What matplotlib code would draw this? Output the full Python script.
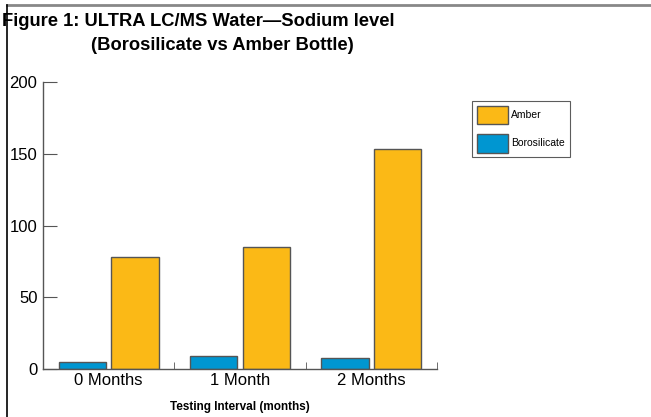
import matplotlib
matplotlib.use("Agg")
import matplotlib.pyplot as plt
from matplotlib import font_manager
from matplotlib.lines import Line2D
import numpy as np

# fonts: narrow sans if available
names = {f.name for f in font_manager.fontManager.ttflist}
NARROW = "Liberation Sans Narrow" if "Liberation Sans Narrow" in names else "Liberation Sans"
plt.rcParams["font.family"] = [NARROW, "DejaVu Sans"]

# data
categories = ["0 Months", "1 Month", "2 Months"]
borosilicate = [5, 9, 8]
amber = [78, 85, 153]
y_ticks = [0, 50, 100, 150, 200]

AMBER = "#FBB916"
BLUE = "#0096D1"
EDGE = "#555555"

fig = plt.figure(figsize=(6.51, 4.17), dpi=100)
ax = fig.add_axes([43 / 651, 1 - 369 / 417, (437 - 43) / 651, (369 - 82) / 417])

x = np.arange(len(categories))
w = 0.36
ax.bar(x - 0.2, borosilicate, w, color=BLUE, edgecolor=EDGE, linewidth=1.0, label="Borosilicate")
ax.bar(x + 0.2, amber, w, color=AMBER, edgecolor=EDGE, linewidth=1.0, label="Amber")

ax.set_xlim(-0.5, 2.5)
ax.set_ylim(0, 200)
ax.set_yticks(y_ticks)
ax.set_yticklabels([str(v) for v in y_ticks], fontsize=12)
ax.set_xticks(x)
ax.set_xticklabels(categories, fontsize=12)
ax.set_xticks([0.5, 1.5, 2.5], minor=True)
ax.tick_params(axis="x", which="major", length=0, pad=3)
ax.tick_params(axis="x", which="minor", direction="in", length=5, color=EDGE)
ax.tick_params(axis="y", direction="in", length=10, color=EDGE, pad=4)
for s in ("top", "right"):
    ax.spines[s].set_visible(False)
for s in ("left", "bottom"):
    ax.spines[s].set_color(EDGE)
    ax.spines[s].set_linewidth(1.0)
ax.set_xlabel("Testing Interval (months)", fontsize=8.5, fontweight="bold", labelpad=9)

handles, labels = ax.get_legend_handles_labels()
leg = fig.legend(handles[::-1], labels[::-1], loc="upper left",
                 bbox_to_anchor=(472 / 651, 1 - 101 / 417), borderaxespad=0,
                 fontsize=7.5, frameon=True, fancybox=False, edgecolor="#333333",
                 handlelength=3.0, handleheight=2.4, borderpad=0.45,
                 labelspacing=0.9, handletextpad=0.3)
leg.get_frame().set_linewidth(0.8)

# title
fig.text(2 / 651, 1 - 22 / 417, "Figure 1: ULTRA LC/MS Water\u2014Sodium level",
         fontsize=13.2, fontweight="bold", ha="left", va="center")
fig.text(222 / 651, 1 - 45 / 417, "(Borosilicate vs Amber Bottle)",
         fontsize=13.2, fontweight="bold", ha="center", va="center")

# page border
fig.add_artist(Line2D([7 / 651, 1], [1 - 5 / 417, 1 - 5 / 417], transform=fig.transFigure,
                      color="#888888", linewidth=2))
fig.add_artist(Line2D([7 / 651, 7 / 651], [0, 1 - 5 / 417], transform=fig.transFigure,
                      color="black", linewidth=1.2))

fig.savefig("out.png", dpi=100)
